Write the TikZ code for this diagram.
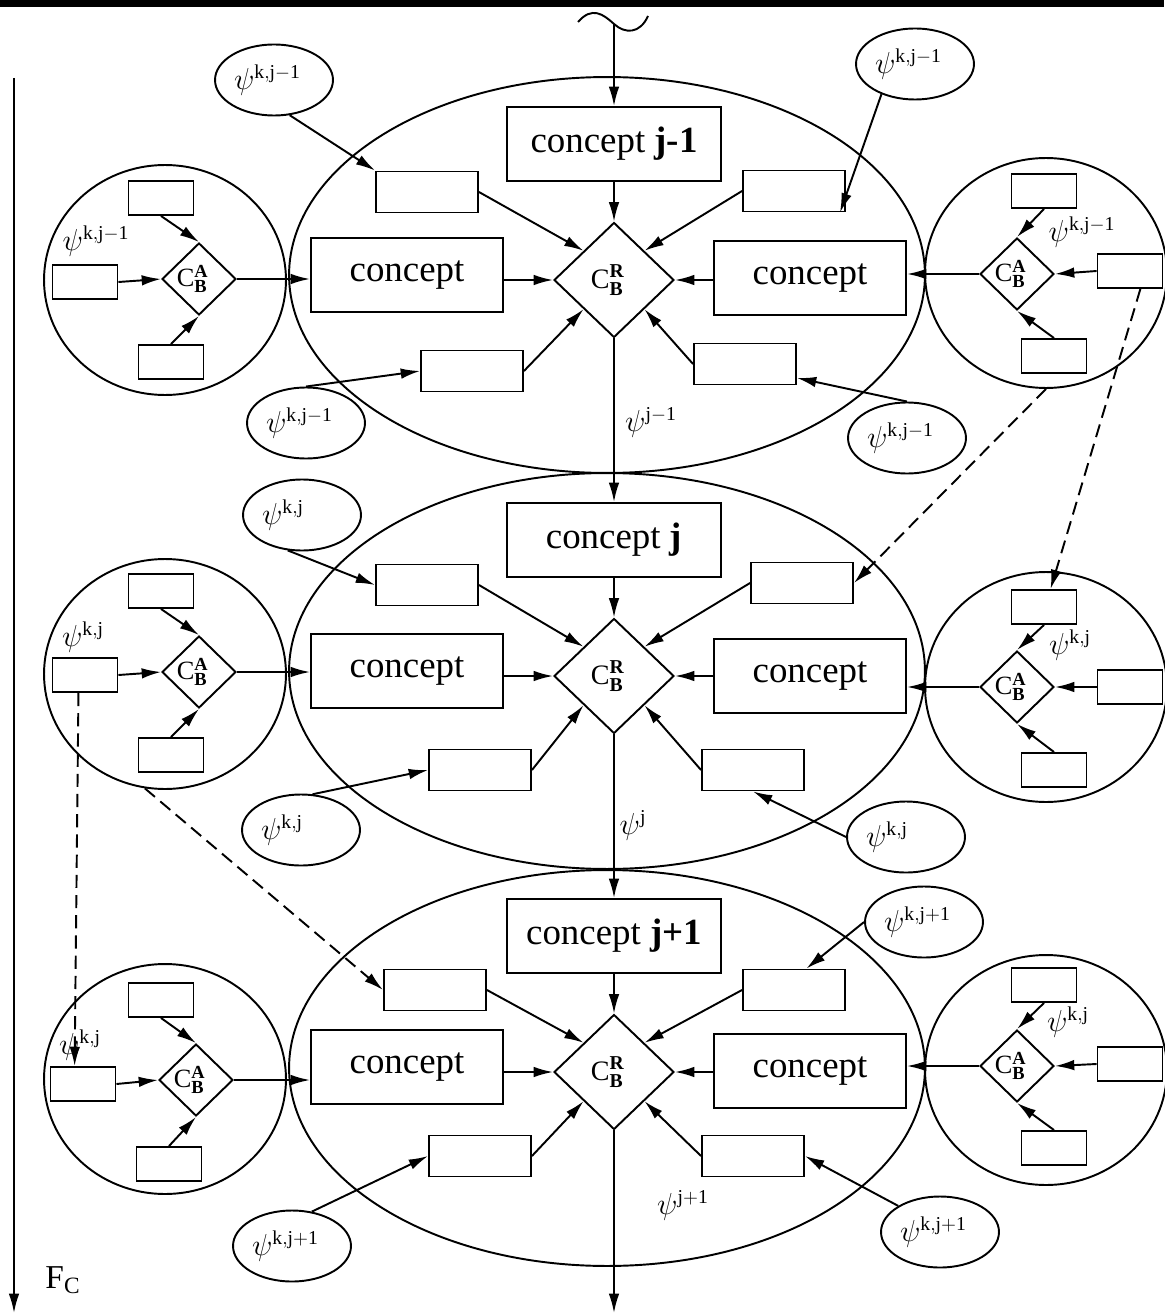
\documentclass[tikz,border=0pt]{standalone}
\usepackage{fontspec}
\setmainfont{Liberation Serif}
\usetikzlibrary{shapes.geometric,arrows.meta}

\tikzset{
  tier/.style={draw, ellipse, minimum width=12.72cm, minimum height=7.92cm},
  side/.style={draw, ellipse, minimum width=4.84cm, minimum height=4.6cm},
  conceptbox/.style={draw, minimum width=4.28cm, minimum height=1.48cm, font=\fontsize{21}{25}\selectfont},
  cpt/.style={draw, minimum width=3.84cm, minimum height=1.48cm, font=\fontsize{21}{25}\selectfont},
  slot/.style={draw, minimum width=2.04cm, minimum height=0.82cm},
  tslot/.style={draw, minimum width=1.3cm, minimum height=0.68cm},
  bigrule/.style={draw, diamond, inner sep=0pt, minimum width=2.4cm, minimum height=2.3cm, font=\fontsize{16}{19}\selectfont},
  smallrule/.style={draw, diamond, inner sep=0pt, minimum width=1.48cm, minimum height=1.44cm, font=\fontsize{15}{18}\selectfont},
  psi/.style={draw, ellipse, minimum width=2.36cm, minimum height=1.42cm, inner sep=0pt, text width=1.6cm, align=left, font=\fontsize{16}{19}\selectfont},
  lbl/.style={inner sep=1pt, font=\fontsize{16}{19}\selectfont},
  arr/.style={-{Latex[length=11pt,width=6pt]}},
  dashline/.style={dash pattern=on 7.5pt off 4pt},
}
\newcommand{\rulesym}[1]{$\mathrm{C}_{\mathbf{B}}^{\mathbf{#1}}$\hspace*{0.25cm}}
\newcommand{\psisym}[1]{$\psi^{\mathrm{#1}}$}

\begin{document}
\begin{tikzpicture}[x=0.02cm, y=-0.02cm, line width=1.1pt]
\useasboundingbox (0,0) rectangle (1164,1314);

% Top rule
\fill (0,0) rectangle (1164,7);

% Time axis
\coordinate (ftop) at (14,78);
\coordinate (fbot) at (14,1313);
\draw[arr] (ftop) -- (fbot);
\node[lbl, font=\fontsize{19}{22}\selectfont] (fc) at (63,1280) {$\mathrm{F}_{\mathrm{C}}$};

% Levels and side circles
\node[tier] (E1) at (607,275) {};
\node[tier] (E2) at (607,671) {};
\node[tier] (E3) at (607,1068) {};
\node[side] (L1) at (165,280) {};
\node[side] (L2) at (165,674) {};
\node[side] (L3) at (165,1079) {};
\node[side] (R1) at (1046,273) {};
\node[side] (R2) at (1046,687) {};
\node[side] (R3) at (1046,1070) {};

% Concept boxes
\node[conceptbox] (C1) at (614,144) {concept \textbf{j-1}};
\node[conceptbox] (C2) at (614,540) {concept \textbf{j}};
\node[conceptbox] (C3) at (614,936) {concept \textbf{j+1}};
\node[cpt] (A1) at (407,275) {concept};
\node[cpt] (B1) at (810,278) {concept};
\node[cpt] (A2) at (407,671) {concept};
\node[cpt] (B2) at (810,676) {concept};
\node[cpt] (A3) at (407,1067) {concept};
\node[cpt] (B3) at (810,1071) {concept};

% Rule diamonds
\node[bigrule] (D1) at (614,280) {\rulesym{R}};
\node[bigrule] (D2) at (614,676) {\rulesym{R}};
\node[bigrule] (D3) at (614,1072) {\rulesym{R}};

% Slots
\node[slot] (U1) at (427,192) {};
\node[slot] (V1) at (794,191) {};
\node[slot] (W1) at (472,371) {};
\node[slot] (X1) at (745,364) {};
\node[slot] (U2) at (427,585) {};
\node[slot] (V2) at (802,583) {};
\node[slot] (W2) at (480,770) {};
\node[slot] (X2) at (753,770) {};
\node[slot] (U3) at (435,990) {};
\node[slot] (V3) at (794,990) {};
\node[slot] (W3) at (480,1156) {};
\node[slot] (X3) at (753,1156) {};

% Left side circles
\node[tslot] (L1t) at (161,198) {};
\node[tslot] (L1l) at (85,282) {};
\node[tslot] (L1b) at (171,362) {};
\node[smallrule] (L1d) at (199,279) {\rulesym{A}};
\node[lbl] (L1p) at (96,241) {\psisym{k,j-1}};
\node[tslot] (L2t) at (161,591) {};
\node[tslot] (L2l) at (85,675) {};
\node[tslot] (L2b) at (171,755) {};
\node[smallrule] (L2d) at (199,672) {\rulesym{A}};
\node[lbl] (L2p) at (83,637) {\psisym{k,j}};
\node[tslot] (L3t) at (161,1000) {};
\node[tslot] (L3l) at (83,1084) {};
\node[tslot] (L3b) at (169,1164) {};
\node[smallrule] (L3d) at (196,1080) {\rulesym{A}};
\node[lbl] (L3p) at (80,1045) {\psisym{k,j}};

% Right side circles
\node[tslot] (R1t) at (1044,191) {};
\node[tslot] (R1r) at (1130,271) {};
\node[tslot] (R1b) at (1054,356) {};
\node[smallrule] (R1d) at (1017,274) {\rulesym{A}};
\node[lbl] (R1p) at (1082,232) {\psisym{k,j-1}};
\node[tslot] (R2t) at (1044,607) {};
\node[tslot] (R2r) at (1130,687) {};
\node[tslot] (R2b) at (1054,770) {};
\node[smallrule] (R2d) at (1017,687) {\rulesym{A}};
\node[lbl] (R2p) at (1070,645) {\psisym{k,j}};
\node[tslot] (R3t) at (1044,985) {};
\node[tslot] (R3r) at (1130,1064) {};
\node[tslot] (R3b) at (1054,1148) {};
\node[smallrule] (R3d) at (1017,1066) {\rulesym{A}};
\node[lbl] (R3p) at (1068,1022) {\psisym{k,j}};

% Psi inputs
\node[psi] (P11) at (274,80) {\psisym{k,j-1}};
\node[psi] (P12) at (915,64) {\psisym{k,j-1}};
\node[psi] (P13) at (306,423) {\psisym{k,j-1}};
\node[psi] (P14) at (907,438) {\psisym{k,j-1}};
\node[psi] (P21) at (302,515) {\psisym{k,j}};
\node[psi] (P22) at (301,830) {\psisym{k,j}};
\node[psi] (P23) at (906,837) {\psisym{k,j}};
\node[psi] (P31) at (924,922) {\psisym{k,j+1}};
\node[psi] (P32) at (292,1246) {\psisym{k,j+1}};
\node[psi] (P33) at (940,1232) {\psisym{k,j+1}};

% Main column labels
\node[lbl] (s1) at (651,422) {\psisym{j-1}};
\node[lbl] (s2) at (633,825) {\psisym{j}};
\node[lbl] (s3) at (683,1205) {\psisym{j+1}};

% Main column
\draw (578,22) .. controls (592,6) and (603,14) .. (614,24)
  .. controls (625,34) and (640,34) .. (648,16);
\coordinate (src) at (614,24);
\coordinate (sink) at (614,1313);
\draw[arr] (src) -- (C1);
\draw[arr] (C1) -- (D1);
\draw[arr] (D1) -- (C2);
\draw[arr] (C2) -- (D2);
\draw[arr] (D2) -- (C3);
\draw[arr] (C3) -- (D3);
\draw[arr] (D3) -- (sink);

% Concepts into rules
\draw[arr] (A1.east |- D1.west) -- (D1.west);
\draw[arr] (B1.west |- D1.east) -- (D1.east);
\draw[arr] (A2.east |- D2.west) -- (D2.west);
\draw[arr] (B2.west |- D2.east) -- (D2.east);
\draw[arr] (A3.east |- D3.west) -- (D3.west);
\draw[arr] (B3.west |- D3.east) -- (D3.east);

% Slots into rules
\draw[arr] (U1.east) -- (D1.north west);
\draw[arr] (V1.west) -- (D1.north east);
\draw[arr] (W1.east) -- (D1.south west);
\draw[arr] (X1.west) -- (D1.south east);
\draw[arr] (U2.east) -- (D2.north west);
\draw[arr] (V2.west) -- (D2.north east);
\draw[arr] (W2.east) -- (D2.south west);
\draw[arr] (X2.west) -- (D2.south east);
\draw[arr] (U3.east) -- (D3.north west);
\draw[arr] (V3.west) -- (D3.north east);
\draw[arr] (W3.east) -- (D3.south west);
\draw[arr] (X3.west) -- (D3.south east);

% Psi into slots
\draw[arr] (P11.-66) -- (U1.north west);
\draw[arr] (P12.-138) -- (V1.-25);
\draw[arr] (P13.north) -- (W1.west);
\draw[arr] (P14.north) -- (X1.-15);
\draw[arr] (P21.-112) -- (U2.west);
\draw[arr] (P22.72) -- (W2.west);
\draw[arr] (P23.west) -- (X2.south);
\draw[arr] (P31.west) -- (V3.60);
\draw[arr] (P32.60) -- (W3.west);
\draw[arr] (P33.148) -- (X3.east);

% Side circles
\draw[arr] (L1t.south) -- (L1d.north);
\draw[arr] (L1l.east) -- (L1d.west);
\draw[arr] (L1b.north) -- (L1d.south);
\draw[arr] (L1d.east) -- (L1d.east -| A1.west);
\draw[arr] (L2t.south) -- (L2d.north);
\draw[arr] (L2l.east) -- (L2d.west);
\draw[arr] (L2b.north) -- (L2d.south);
\draw[arr] (L2d.east) -- (L2d.east -| A2.west);
\draw[arr] (L3t.south) -- (L3d.north);
\draw[arr] (L3l.east) -- (L3d.west);
\draw[arr] (L3b.north) -- (L3d.south);
\draw[arr] (L3d.east) -- (L3d.east -| A3.west);
\draw[arr] (R1t.south) -- (R1d.north);
\draw[arr] (R1r.west) -- (R1d.east);
\draw[arr] (R1b.north) -- (R1d.south);
\draw[arr] (R1d.west) -- (R1d.west -| B1.east);
\draw[arr] (R2t.south) -- (R2d.north);
\draw[arr] (R2r.west) -- (R2d.east);
\draw[arr] (R2b.north) -- (R2d.south);
\draw[arr] (R2d.west) -- (R2d.west -| B2.east);
\draw[arr] (R3t.south) -- (R3d.north);
\draw[arr] (R3r.west) -- (R3d.east);
\draw[arr] (R3b.north) -- (R3d.south);
\draw[arr] (R3d.west) -- (R3d.west -| B3.east);

% Dashed links between levels
\draw[arr, dashline] (R1r.-60) -- (R2t.70);
\draw[arr, dashline] (R1.south) -- (V2.east);
\draw[arr, dashline] (L2l.-110) -- (L3l.115);
\draw[arr, dashline] (L2.-100) -- (U3.west);
\end{tikzpicture}
\end{document}
